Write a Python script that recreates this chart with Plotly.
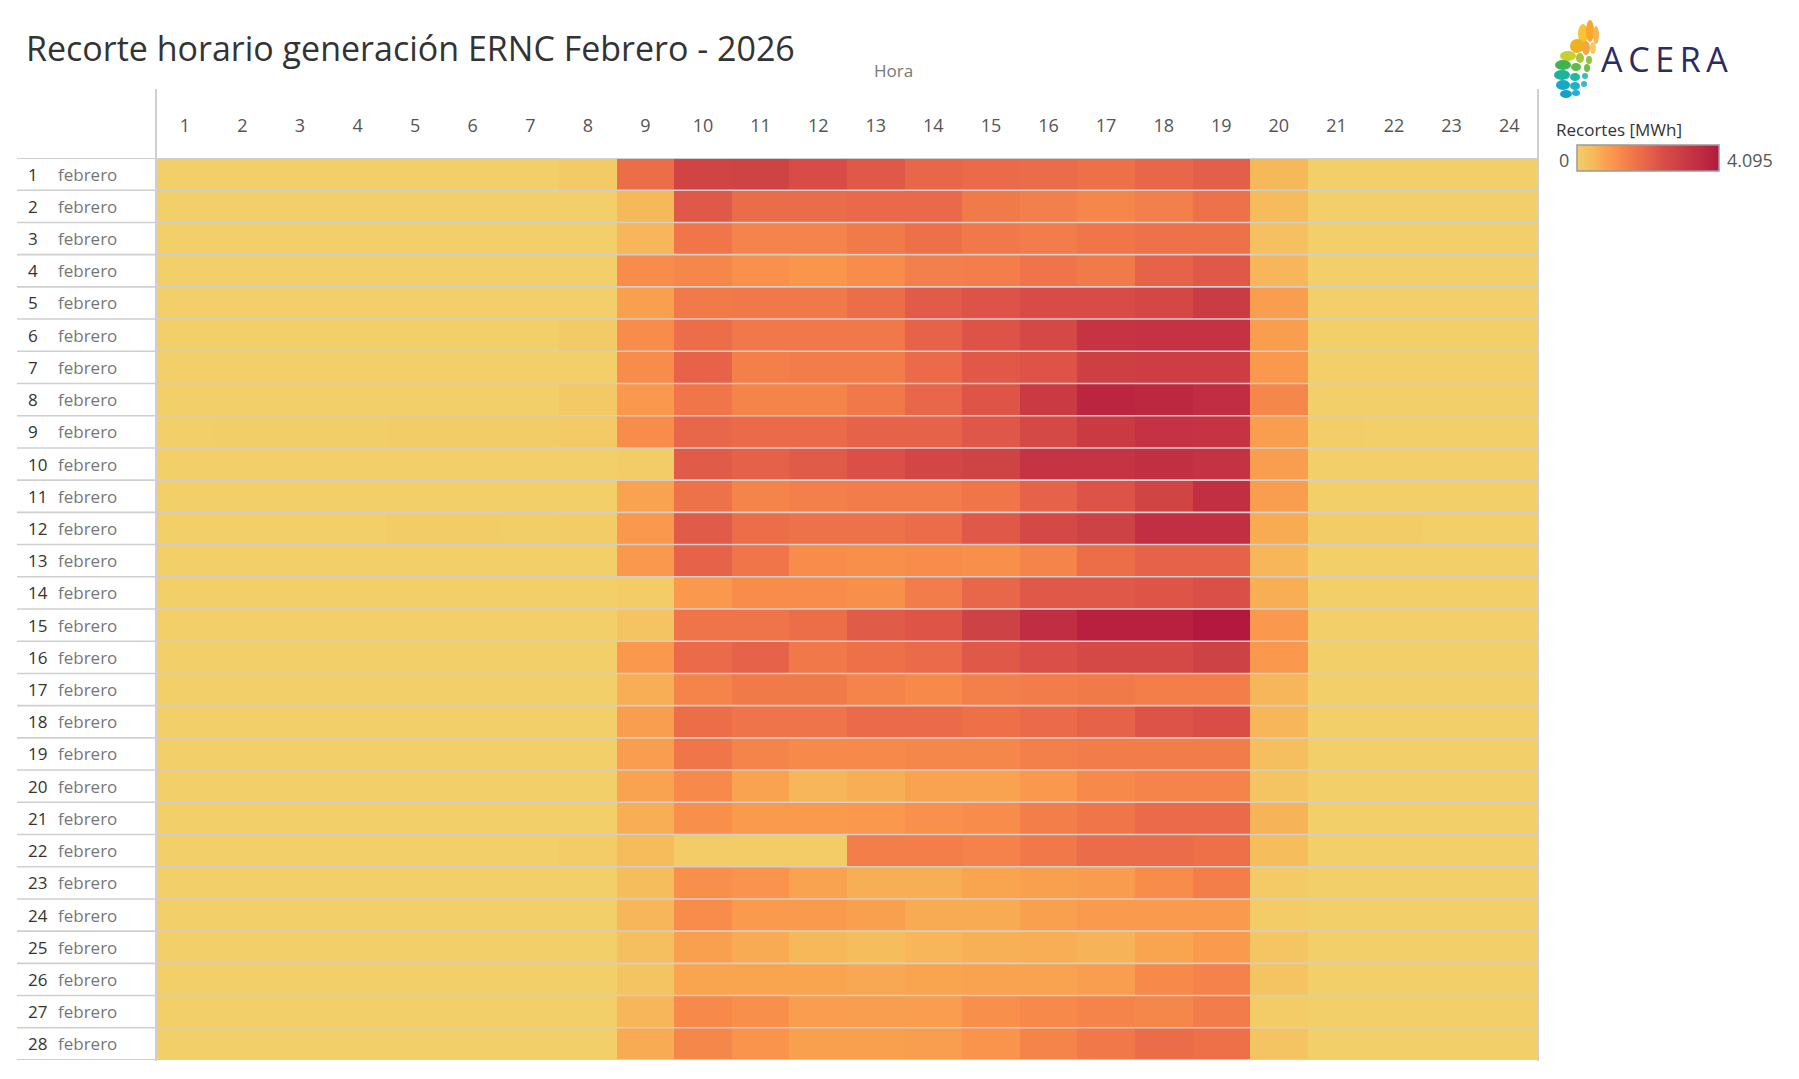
import plotly.graph_objects as go

# ---------------- data ----------------
dias = list(range(1, 29))
horas = list(range(1, 25))
mes = "febrero"
titulo = "Recorte horario generación ERNC Febrero - 2026"
max_mwh = 4095

# Recortes [MWh] por hora (cada lista: días 1..28)
h01 = [0] * 28
h02 = [0, 0, 0, 0, 0, 0, 0, 0, 30, 0, 0, 0, 0, 0, 0, 0, 0, 0, 0, 0, 0, 0, 0, 0, 0, 0, 0, 0]
h03 = [0, 0, 0, 0, 0, 0, 0, 0, 30, 0, 0, 0, 0, 0, 0, 0, 0, 0, 0, 0, 0, 0, 0, 0, 0, 0, 0, 0]
h04 = [0, 0, 0, 0, 0, 0, 0, 0, 30, 0, 0, 0, 0, 0, 0, 0, 0, 0, 0, 0, 0, 0, 0, 0, 0, 0, 0, 0]
h05 = [0, 0, 0, 0, 0, 0, 0, 0, 60, 0, 0, 60, 0, 0, 0, 0, 0, 0, 0, 0, 0, 0, 0, 0, 0, 0, 0, 0]
h06 = [0, 0, 0, 0, 0, 0, 0, 0, 60, 0, 0, 60, 0, 0, 0, 0, 0, 0, 0, 0, 0, 0, 0, 0, 0, 0, 0, 0]
h07 = [0, 0, 0, 0, 0, 0, 0, 0, 60, 0, 0, 30, 0, 0, 0, 0, 0, 0, 0, 0, 0, 0, 0, 0, 0, 0, 0, 0]
h08 = [90, 0, 0, 0, 0, 90, 0, 130, 120, 0, 0, 60, 0, 0, 0, 0, 0, 0, 0, 0, 0, 80, 0, 0, 0, 0, 0, 0]
h09 = [1800, 490, 530, 1230, 860, 1230, 1230, 1025, 1230, 80, 820, 1025, 1025, 80,
       245, 1025, 655, 900, 900, 820, 655, 450, 410, 530, 370, 245, 530, 695]
h10 = [2785, 2250, 1640, 1310, 1555, 1800, 2050, 1640, 1965, 2210, 1720, 2210, 2050, 1025,
       1680, 1885, 1350, 1800, 1640, 1270, 1190, 80, 1190, 1230, 860, 780, 1270, 1310]
h11 = [2865, 1845, 1350, 1145, 1595, 1595, 1435, 1350, 1885, 2090, 1350, 1800, 1640, 1230,
       1680, 2050, 1555, 1680, 1350, 820, 985, 80, 1105, 985, 695, 780, 1190, 1105]
h12 = [2540, 1845, 1350, 1065, 1595, 1595, 1515, 1350, 1885, 2210, 1435, 1720, 1230, 1230,
       1800, 1595, 1555, 1680, 1270, 530, 985, 80, 820, 985, 490, 780, 900, 860]
h13 = [2250, 1925, 1555, 1230, 1800, 1595, 1515, 1595, 2050, 2455, 1515, 1720, 1190, 1190,
       2210, 1760, 1350, 1885, 1270, 655, 1025, 1475, 655, 860, 410, 735, 900, 860]
h14 = [1965, 1925, 1760, 1435, 2210, 2050, 1885, 1965, 2050, 2745, 1515, 1845, 1230, 1515,
       2335, 1885, 1270, 1885, 1310, 820, 1145, 1475, 655, 695, 530, 780, 900, 900]
h15 = [1885, 1555, 1595, 1475, 2375, 2375, 2250, 2335, 2295, 2865, 1640, 2250, 1190, 1965,
       2905, 2250, 1435, 1760, 1310, 820, 1230, 1390, 780, 695, 615, 820, 1190, 1105]
h16 = [1845, 1435, 1515, 1680, 2540, 2660, 2375, 3110, 2660, 3275, 2050, 2660, 1350, 2250,
       3520, 2455, 1515, 1885, 1435, 1025, 1475, 1595, 860, 860, 655, 820, 1270, 1350]
h17 = [1760, 1310, 1640, 1555, 2540, 3275, 2950, 3765, 3110, 3275, 2375, 2905, 1800, 2250,
       3890, 2660, 1555, 2050, 1515, 1270, 1640, 1845, 940, 985, 575, 900, 1350, 1595]
h18 = [1965, 1435, 1720, 2050, 2700, 3360, 2990, 3685, 3360, 3440, 2785, 3440, 2050, 2335,
       3890, 2660, 1475, 2375, 1515, 1350, 1885, 1845, 1230, 985, 780, 1270, 1310, 1845]
h19 = [2130, 1720, 1720, 2250, 3070, 3360, 2990, 3520, 3275, 3360, 3440, 3440, 2050, 2455,
       4095, 2905, 1475, 2500, 1515, 1350, 1885, 1760, 1475, 985, 985, 1390, 1515, 1760]
h20 = [490, 450, 330, 530, 900, 900, 1025, 1310, 900, 900, 900, 695, 530, 655,
       1025, 1025, 530, 530, 370, 245, 575, 410, 120, 80, 200, 245, 80, 245]
h21 = [0, 0, 0, 0, 0, 0, 0, 0, 40, 0, 0, 50, 0, 0, 0, 0, 0, 0, 0, 0, 0, 0, 0, 0, 0, 0, 0, 0]
h22 = [0, 0, 0, 0, 0, 0, 0, 0, 0, 0, 0, 50, 0, 0, 0, 0, 0, 0, 0, 0, 0, 0, 0, 0, 0, 0, 0, 0]
h23 = [0] * 28
h24 = [0] * 28

por_hora = [h01, h02, h03, h04, h05, h06, h07, h08, h09, h10, h11, h12,
            h13, h14, h15, h16, h17, h18, h19, h20, h21, h22, h23, h24]
z = [[col[d] for col in por_hora] for d in range(len(dias))]

# ---------------- figure ----------------
W, H = 1799, 1079
FONT = "Open Sans"


def px(x):
    return x / W


def py(y):
    return 1 - y / H


colorscale = [
    [0.00, "#f2cf69"], [0.12, "#f6b95a"], [0.20, "#f9a24f"], [0.27, "#fa944c"],
    [0.33, "#f5844a"], [0.42, "#ee7249"], [0.50, "#e6634a"], [0.62, "#d84b46"],
    [0.70, "#ce4344"], [0.80, "#c63443"], [0.90, "#bd2841"], [1.00, "#b4183e"],
]

fig = go.Figure(go.Heatmap(
    x=horas, y=dias, z=z, zmin=0, zmax=max_mwh,
    colorscale=colorscale,
    hovertemplate="Día %{y} - Hora %{x}<br>%{z} MWh<extra></extra>",
    colorbar=dict(
        orientation="h", xref="paper", yref="paper",
        x=px(1577), xanchor="left", y=py(145), yanchor="top",
        len=142, lenmode="pixels", thickness=26, thicknessmode="pixels",
        outlinecolor="#9a9a9a", outlinewidth=1.5,
        showticklabels=False, ticks="", xpad=0, ypad=0,
    ),
))

x_left, x_right = 156, 1538
y_top, y_bot = 158, 1060

fig.update_layout(
    width=W, height=H,
    margin=dict(l=0, r=0, t=0, b=0),
    paper_bgcolor="white", plot_bgcolor="white",
    font=dict(family=FONT, color="#555"),
    xaxis=dict(domain=[px(x_left), px(x_right)], range=[0.5, 24.5],
               side="top", tickvals=horas, ticktext=[str(h) for h in horas],
               ticks="outside", ticklen=18, tickcolor="rgba(0,0,0,0)",
               tickfont=dict(size=18, color="#555", family=FONT),
               showgrid=False, zeroline=False, showline=False, fixedrange=True),
    yaxis=dict(domain=[py(y_bot), py(y_top)], range=[28.5, 0.5],
               showticklabels=False, ticks="", showgrid=False, zeroline=False,
               showline=False, fixedrange=True),
    showlegend=False,
)

shapes = []
line_col = "#cfcfcf"
# row separators (extend into label area)
for k in range(len(dias) + 1):
    shapes.append(dict(type="line", xref="paper", yref="y",
                       x0=px(17), x1=px(x_right), y0=k + 0.5, y1=k + 0.5,
                       line=dict(color=line_col, width=1.6 if k not in (0, len(dias)) else 2)))
# vertical lines
for xv in (x_left, x_right):
    shapes.append(dict(type="line", xref="paper", yref="paper",
                       x0=px(xv), x1=px(xv), y0=py(89), y1=py(y_bot + 1),
                       line=dict(color=line_col, width=2)))

# ACERA logo leaves (decorative)
leaves = [
    (1583, 34, 5, 10, "#f9c431"), (1590, 31, 4, 11, "#f7a630"), (1596, 35, 3, 9, "#f6b550"),
    (1577, 46, 7, 7, "#f0b11f"), (1586, 48, 4, 7, "#f4a640"), (1593, 48, 3, 6, "#f7c860"),
    (1568, 56, 8, 5, "#c9cf2e"), (1580, 58, 4, 5, "#a6c93b"), (1589, 60, 3, 4, "#8cc63f"),
    (1563, 65, 8, 5, "#3fb34f"), (1576, 67, 5, 4, "#5fbb45"), (1587, 68, 3, 4, "#6cc04a"),
    (1562, 75, 8, 5, "#1bb39b"), (1575, 77, 5, 4, "#22b7a5"), (1585, 76, 3, 3, "#3cbfb0"),
    (1563, 85, 7, 5, "#15aac4"), (1575, 86, 5, 4, "#1fb1c8"), (1584, 84, 3, 3, "#34b9cf"),
    (1566, 94, 6, 4, "#13a3c9"), (1576, 93, 4, 3, "#26aed2"),
]
for cx, cy, rx, ry, col in leaves:
    shapes.append(dict(type="circle", xref="paper", yref="paper",
                       x0=px(cx - rx), x1=px(cx + rx), y0=py(cy + ry), y1=py(cy - ry),
                       fillcolor=col, line=dict(width=0), layer="above"))

annotations = [
    dict(text=titulo, x=px(24), y=py(48), xref="paper", yref="paper",
         xanchor="left", yanchor="middle", showarrow=False,
         font=dict(size=34, color="#333", family=FONT)),
    dict(text="Hora", x=px(893), y=py(70), xref="paper", yref="paper",
         xanchor="center", yanchor="middle", showarrow=False,
         font=dict(size=17, color="#777", family=FONT)),
    dict(text="A\u2009C\u2009E\u2009R\u2009A", x=px(1599), y=py(59), xref="paper", yref="paper",
         xanchor="left", yanchor="middle", showarrow=False,
         font=dict(size=34, color="#2e2a62", family=FONT)),
    dict(text="Recortes [MWh]", x=px(1554), y=py(130), xref="paper", yref="paper",
         xanchor="left", yanchor="middle", showarrow=False,
         font=dict(size=17, color="#333", family=FONT)),
    dict(text="0", x=px(1571), y=py(160), xref="paper", yref="paper",
         xanchor="right", yanchor="middle", showarrow=False,
         font=dict(size=18, color="#555", family=FONT)),
    dict(text="4.095", x=px(1725), y=py(160), xref="paper", yref="paper",
         xanchor="left", yanchor="middle", showarrow=False,
         font=dict(size=18, color="#555", family=FONT)),
]
for d in dias:
    annotations.append(dict(text=str(d), x=px(26), y=d, xref="paper", yref="y",
                            xanchor="left", yanchor="middle", showarrow=False,
                            font=dict(size=17, color="#333", family=FONT)))
    annotations.append(dict(text=mes, x=px(56), y=d, xref="paper", yref="y",
                            xanchor="left", yanchor="middle", showarrow=False,
                            font=dict(size=17, color="#777", family=FONT)))

fig.update_layout(shapes=shapes, annotations=annotations)
fig.write_html("out.html")
